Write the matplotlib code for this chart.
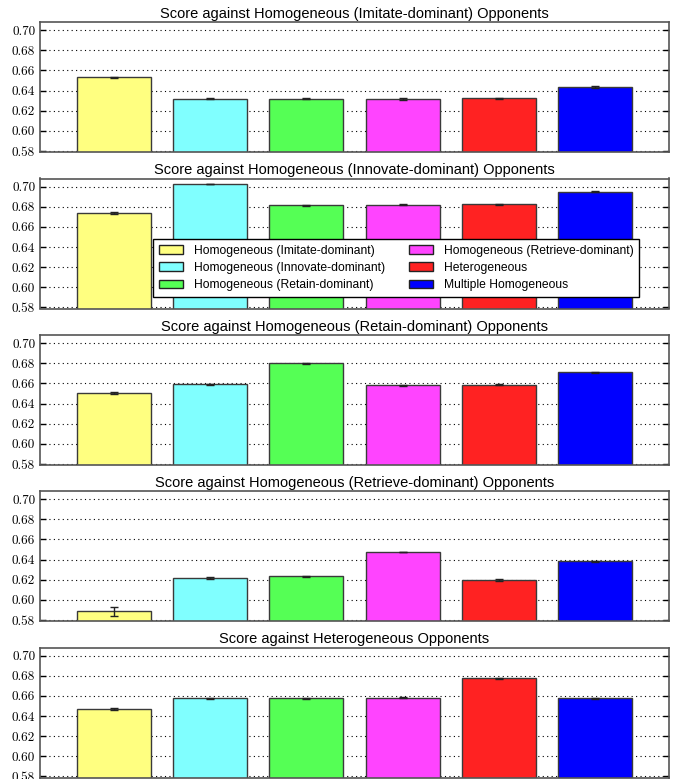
import matplotlib
matplotlib.use("Agg")
import matplotlib.pyplot as plt
from matplotlib.ticker import FuncFormatter, MultipleLocator
import numpy as np

plt.rcParams['font.family'] = ['Liberation Sans', 'DejaVu Sans']

series = ["Homogeneous (Imitate-dominant)", "Homogeneous (Innovate-dominant)",
          "Homogeneous (Retain-dominant)", "Homogeneous (Retrieve-dominant)",
          "Heterogeneous", "Multiple Homogeneous"]
colors = ["#FFFF80", "#80FFFF", "#55FF55", "#FF44FF", "#FF2222", "#0000FF"]

titles = ["Score against Homogeneous (Imitate-dominant) Opponents",
          "Score against Homogeneous (Innovate-dominant) Opponents",
          "Score against Homogeneous (Retain-dominant) Opponents",
          "Score against Homogeneous (Retrieve-dominant) Opponents",
          "Score against Heterogeneous Opponents"]

scores_imitate = [0.6534, 0.6320, 0.6320, 0.6313, 0.6323, 0.6435]
scores_innovate = [0.6735, 0.7026, 0.6815, 0.6818, 0.6825, 0.6950]
scores_retain = [0.6500, 0.6590, 0.6800, 0.6580, 0.6585, 0.6709]
scores_retrieve = [0.5886, 0.6215, 0.6232, 0.6476, 0.6193, 0.6383]
scores_hetero = [0.6470, 0.6575, 0.6575, 0.6580, 0.6775, 0.6575]

err_imitate = [0.0005, 0.0005, 0.0005, 0.0010, 0.0005, 0.0005]
err_innovate = [0.0010, 0.0004, 0.0005, 0.0005, 0.0005, 0.0005]
err_retain = [0.0010, 0.0005, 0.0003, 0.0005, 0.0005, 0.0005]
err_retrieve = [0.0042, 0.0010, 0.0007, 0.0003, 0.0010, 0.0005]
err_hetero = [0.0010, 0.0005, 0.0005, 0.0005, 0.0003, 0.0005]

all_scores = [scores_imitate, scores_innovate, scores_retain, scores_retrieve, scores_hetero]
all_errs = [err_imitate, err_innovate, err_retain, err_retrieve, err_hetero]

W, H = 686, 779
fig = plt.figure(figsize=(W / 100, H / 100), dpi=100)

tops = [22, 178.5, 335, 491, 647.5]
ax_h = 130
left_px, right_px = 40, 669

x = np.arange(len(series))
fmt = FuncFormatter(lambda v, p: '%.2f' % v)

for i, (t, sc, er) in enumerate(zip(titles, all_scores, all_errs)):
    ax = fig.add_axes([left_px / W, 1 - (tops[i] + ax_h) / H,
                       (right_px - left_px) / W, ax_h / H])
    ax.bar(x, sc, width=0.77, color=colors, edgecolor='#3a3a3a',
           linewidth=1.0, yerr=er, capsize=3,
           error_kw=dict(ecolor='#222222', elinewidth=1, capthick=1),
           zorder=2)
    ax.set_xlim(-0.77, len(series) - 1 + 0.77)
    ax.set_ylim(0.579, 0.708)
    ax.yaxis.set_major_locator(MultipleLocator(0.02))
    ax.yaxis.set_major_formatter(fmt)
    ax.set_xticks([])
    ax.tick_params(axis='y', direction='in', left=True, right=True, length=4,
                   width=1, labelsize=9.5, pad=3.5)
    for lbl in ax.get_yticklabels():
        lbl.set_fontfamily(['cmr10', 'DejaVu Serif'])
    ax.grid(True, axis='y', linestyle=(0, (1, 3)), color='black', linewidth=0.8, zorder=0)
    ax.set_axisbelow(True)
    for s in ax.spines.values():
        s.set_color('#555555')
        s.set_linewidth(1.2)
    ax.set_title(t, fontsize=10.5, pad=3)
    if i == 1:
        handles = [plt.Rectangle((0, 0), 1, 1, facecolor=c, edgecolor='#222222', linewidth=1)
                   for c in colors]
        leg = ax.legend(handles, series, ncol=2, loc='upper left',
                        bbox_to_anchor=(0.18, 0.534), borderaxespad=0, fontsize=8.7,
                        frameon=True, fancybox=False, framealpha=1,
                        edgecolor='black', handlelength=2.0, handleheight=0.7,
                        borderpad=0.45, labelspacing=0.45, columnspacing=2.0,
                        handletextpad=0.9)
        leg.get_frame().set_linewidth(1.0)
        leg.set_zorder(5)

fig.savefig("out.png", dpi=100)
